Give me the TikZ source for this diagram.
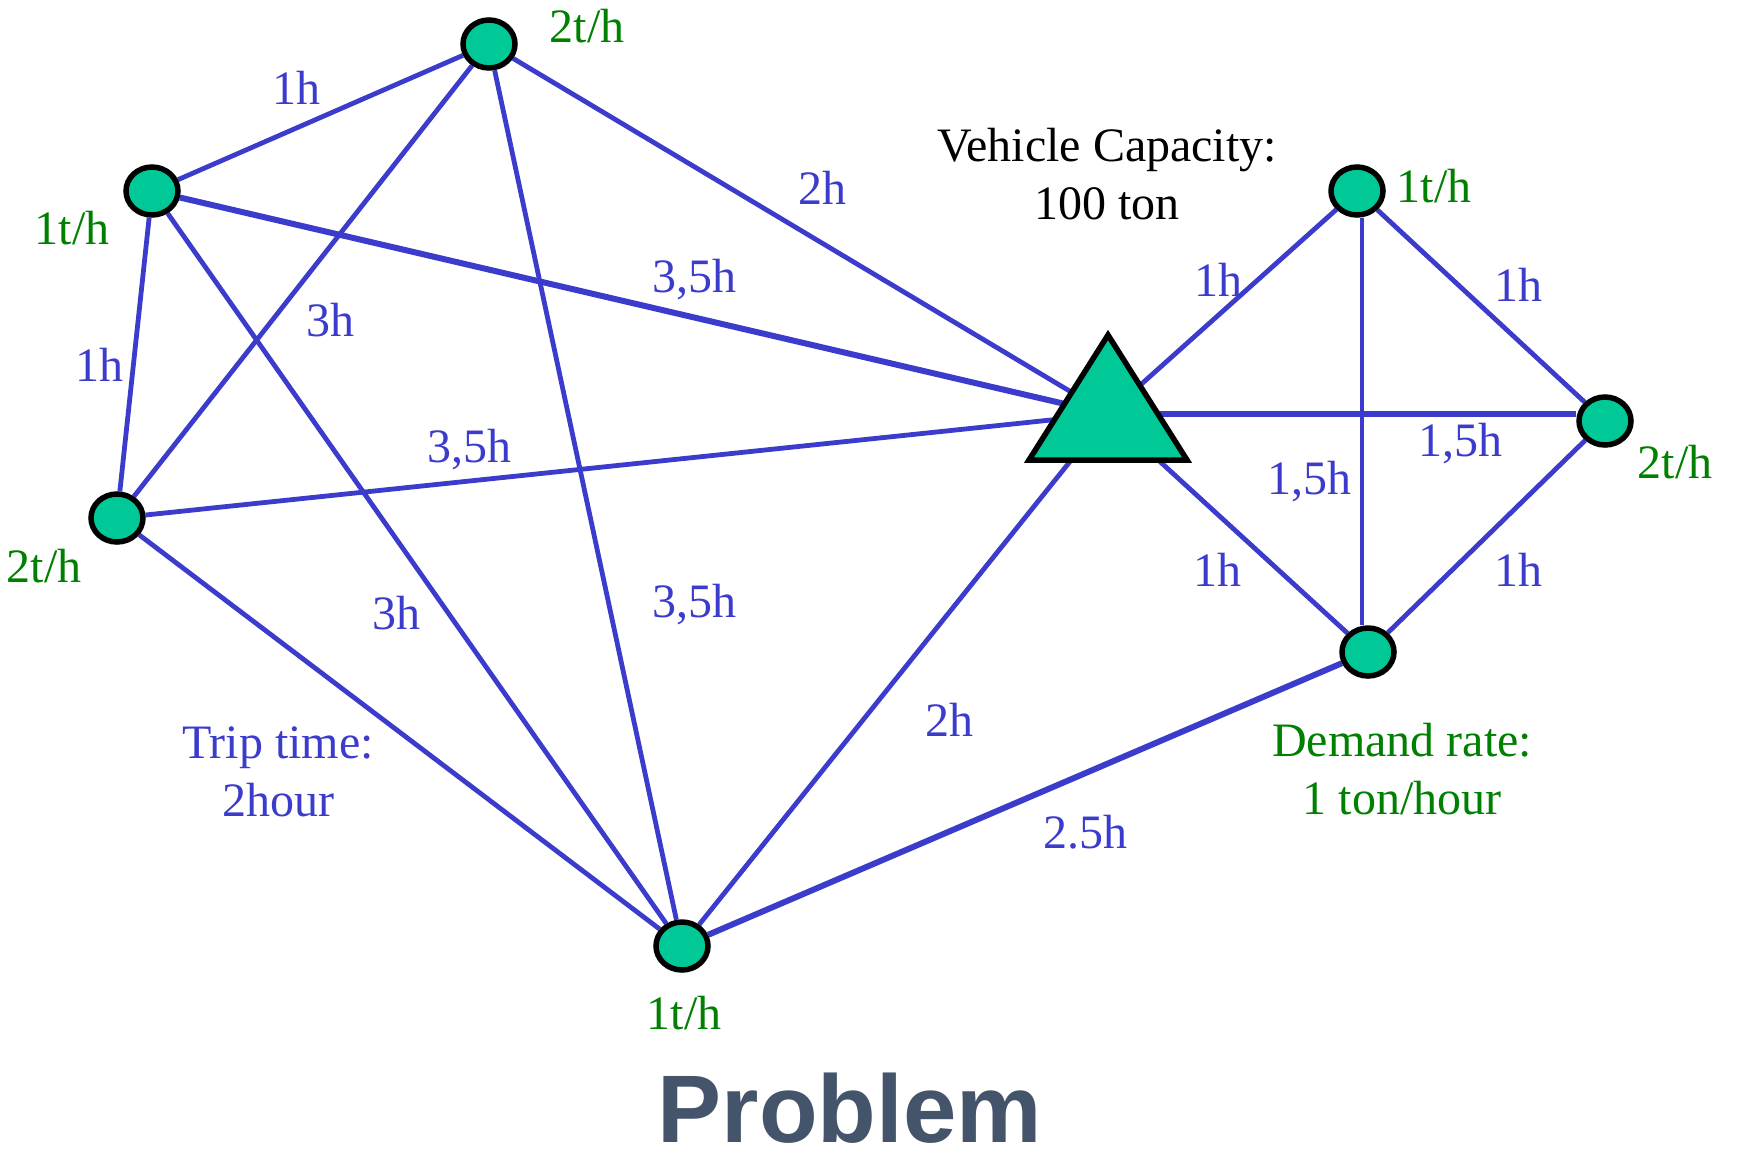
\documentclass[tikz,border=0pt]{standalone}
\usepackage{fontspec}
\setmainfont{Liberation Serif}
\newfontfamily\probfont{Liberation Sans}
\usetikzlibrary{shapes.geometric,backgrounds}
\definecolor{edgeblue}{RGB}{59,59,204}
\definecolor{lblgreen}{RGB}{0,128,0}
\definecolor{nodefill}{RGB}{0,200,151}
\definecolor{titlegray}{RGB}{68,84,106}
\begin{document}
\begin{tikzpicture}[x=1pt,y=-1pt,
  vert/.style={ellipse,draw=black,line width=5.5pt,fill=nodefill,minimum width=52pt,minimum height=48pt,inner sep=0pt},
  road/.style={draw=edgeblue,line width=4.8pt},
  thickroad/.style={draw=edgeblue,line width=6pt},
  tl/.style={text=edgeblue,font=\fontsize{48}{58}\selectfont,inner sep=0pt,align=center},
  dl/.style={text=lblgreen,font=\fontsize{48}{58}\selectfont,inner sep=0pt,align=center},
  bl/.style={text=black,font=\fontsize{48}{58}\selectfont,inner sep=0pt,align=center},
  depot/.style={fill=nodefill,draw=black,line width=5.5pt,line join=miter}]
\useasboundingbox (0,0) rectangle (1742,1168);

% customer nodes
\node[vert] (A) at (489,44) {};
\node[vert] (B) at (152,191) {};
\node[vert] (C) at (117,518) {};
\node[vert] (D) at (682,946) {};
\node[vert] (E) at (1357,191) {};
\node[vert] (F) at (1605,421) {};
\node[vert] (G) at (1368,652) {};
\coordinate (T) at (1108,414);
\coordinate (eg) at (1362,0);

% depot triangle
\filldraw[depot] (1108,335) -- (1187,460) -- (1029,460) -- cycle;

% edges
\begin{pgfonlayer}{background}
\draw[road] (A) -- (B);
\draw[road] (A) -- (C);
\draw[road] (A) -- (D);
\draw[road] (A) -- (T);
\draw[road] (B) -- (C);
\draw[road] (B) -- (D);
\draw[thickroad] (B) -- (T);
\draw[road] (C) -- (T);
\draw[road] (C) -- (D);
\draw[road] (D) -- (T);
\draw[thickroad] (D) -- (G);
\draw[road] (T) -- (E);
\draw[thickroad] (T) -- (T -| F.west);
\draw[road] (T) -- (G);
\draw[road] (E) -- (F);
\draw[road] (E.south -| eg) -- (G.north -| eg);
\draw[road] (F) -- (G);
\end{pgfonlayer}

% demand labels
\node[dl] (dA) at (587,26) {2t/h};
\node[dl] (dB) at (72,228) {1t/h};
\node[dl] (dC) at (44,566) {2t/h};
\node[dl] (dD) at (684,1013) {1t/h};
\node[dl] (dE) at (1434,186) {1t/h};
\node[dl] (dF) at (1675,462) {2t/h};

% annotations
\node[bl] (cap) at (1107,174) {Vehicle Capacity:\\100 ton};
\node[dl] (dem) at (1402,769) {Demand rate:\\1 ton/hour};
\node[tl] (trip) at (278,772) {Trip time:\\2hour};

% edge labels
\node[tl] (lAB) at (296,88) {1h};
\node[tl] (lBC) at (99,365) {1h};
\node[tl] (lAC) at (330,320) {3h};
\node[tl] (lAT) at (822,188) {2h};
\node[tl] (lBT) at (694,280) {3,5h};
\node[tl] (lCT) at (469,450) {3,5h};
\node[tl] (lBD) at (396,613) {3h};
\node[tl] (lAD) at (694,605) {3,5h};
\node[tl] (lDT) at (949,720) {2h};
\node[tl] (lDG) at (1085,832) {2.5h};
\node[tl] (lTE) at (1218,280) {1h};
\node[tl] (lEF) at (1518,285) {1h};
\node[tl] (lTF) at (1460,444) {1,5h};
\node[tl] (lEG) at (1309,482) {1,5h};
\node[tl] (lTG) at (1217,570) {1h};
\node[tl] (lFG) at (1518,570) {1h};

% title
\node[text=titlegray,font=\probfont\bfseries\fontsize{96}{110}\selectfont,inner sep=0pt] (title) at (850,1108) {Problem};
\end{tikzpicture}
\end{document}
